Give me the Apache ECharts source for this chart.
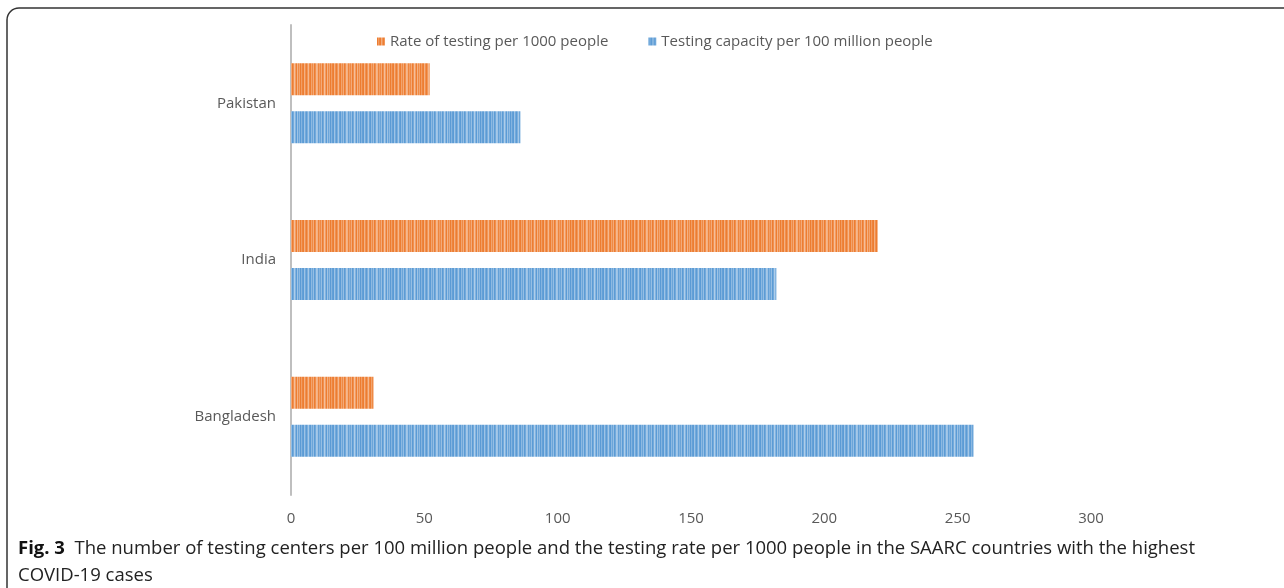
<!DOCTYPE html>
<html><head><meta charset="utf-8">
<script src="https://cdn.jsdelivr.net/npm/echarts@6/dist/echarts.min.js"></script>
<style>html,body{margin:0;padding:0;background:#fff}#c{width:1284px;height:588px}</style>
</head><body><div id="c"></div>
<script>
const categories = ['Bangladesh', 'India', 'Pakistan'];
const capacityName = 'Testing capacity per 100 million people';
const rateName = 'Rate of testing per 1000 people';
const capacityValues = [256, 182, 86];
const rateValues = [31, 220, 52];
const xTicks = [0, 50, 100, 150, 200, 250, 300];

function stripe(rgb) {
  const alphas = [1,0.75,0.95,1,0.6,0.85,1,0.8,0.55,0.9,1,0.7,0.9,0.65,1,0.85,0.55,0.6,0.95,0.75,0.9,0.65,1,0.85,0.5,0.75,1,0.6,0.9,0.7];
  const c = document.createElement('canvas');
  c.width = alphas.length; c.height = 4;
  const ctx = c.getContext('2d');
  ctx.fillStyle = '#fff'; ctx.fillRect(0,0,c.width,c.height);
  alphas.forEach((a,i)=>{
    ctx.fillStyle = 'rgba(' + rgb + ',' + a + ')';
    ctx.fillRect(i, 0, 1, 4);
  });
  return {image: c, repeat: 'repeat'};
}
const orangeFill = stripe('237,125,49');
const blueFill = stripe('91,155,213');

const chart = echarts.init(document.getElementById('c'));
chart.setOption({
  animation: false,
  grid: {left: 291, right: 193, top: 25, bottom: 93, containLabel: false},
  legend: {
    data: [rateName, capacityName],
    top: 29, left: 372,
    itemWidth: 8, itemHeight: 8, itemGap: 40,
    icon: 'rect',
    textStyle: {color: '#595959', fontSize: 15, fontFamily: 'Open Sans'}
  },
  xAxis: {
    type: 'value', min: 0, max: 300, interval: 50,
    axisLine: {show: false}, axisTick: {show: false}, splitLine: {show: false},
    axisLabel: {color: '#595959', fontSize: 15, fontFamily: 'Open Sans', margin: 16,
      formatter: v => xTicks.includes(v) ? String(v) : ''}
  },
  yAxis: {
    type: 'category', data: categories,
    axisLine: {show: true, lineStyle: {color: '#bfbfbf', width: 2}},
    axisTick: {show: false},
    axisLabel: {color: '#595959', fontSize: 15, fontFamily: 'Open Sans', margin: 15}
  },
  series: [
    {name: rateName, type: 'bar', data: rateValues, barWidth: 32, barGap: '50%',
     itemStyle: {color: orangeFill}},
    {name: capacityName, type: 'bar', data: capacityValues, barWidth: 32, barGap: '50%',
     itemStyle: {color: blueFill}}
  ],
  color: ['#ED7D31', '#5B9BD5'],
  graphic: [
    {type: 'rect', shape: {x: 7, y: 8, width: 1300, height: 620, r: 12},
     style: {fill: 'none', stroke: '#333', lineWidth: 1.5}, silent: true},
    {type: 'text', left: 18, top: 535, style: {
      text: '{b|Fig. 3}  The number of testing centers per 100 million people and the testing rate per 1000 people in the SAARC countries with the highest\nCOVID-19 cases',
      rich: {b: {fontWeight: 'bold', fontSize: 18.5, fontFamily: 'Open Sans', fill: '#111'}},
      fontSize: 18.5, fontFamily: 'Open Sans', fill: '#222', lineHeight: 27}}
  ]
});
</script></body></html>
